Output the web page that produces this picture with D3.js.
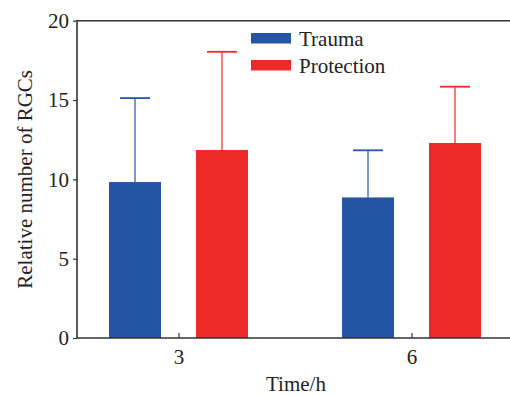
<!DOCTYPE html>
<html>
<head>
<meta charset="utf-8">
<script src="https://cdn.jsdelivr.net/npm/d3@7"></script>
<style>
  body { margin: 0; background: #fff; }
  svg text { font-family: "Liberation Serif", "Times New Roman", serif; fill: #222; }
</style>
</head>
<body>
<svg id="chart" width="510" height="396"></svg>
<script>
// chart values
const times = ["3", "6"];
const seriesNames = ["Trauma", "Protection"];
const seriesColors = ["#2455a5", "#ee2a29"];
const traumaMean = [9.83, 8.86];
const traumaErr = [15.12, 11.83];
const protectionMean = [11.85, 12.29];
const protectionErr = [18.04, 15.84];
const yTicks = [0, 5, 10, 15, 20];

const means = [traumaMean, protectionMean];
const tops = [traumaErr, protectionErr];

const svg = d3.select('#chart');
const margin = {left: 77, right: 0, top: 20.7, bottom: 58};
const width = 510 - margin.left - margin.right;
const height = 396 - margin.top - margin.bottom;
const fs = 21;

const g = svg.append('g').attr('transform', `translate(${margin.left},${margin.top})`);

// group centres and bars within group
const x = d3.scalePoint().domain(times).range([101.5, 334.5]);
const xs = d3.scaleBand().domain(seriesNames).range([-69.5, 69.5]).paddingInner(0.402);
const y = d3.scaleLinear().domain([0, 20]).range([height, 0]);

// bars
const rows = [];
times.forEach((t, i) => {
    seriesNames.forEach((s, j) => {
        rows.push({t, s, j, v: means[j][i], top: tops[j][i]});
    });
});

const bar = g.selectAll('.bar').data(rows).enter().append('g')
    .attr('transform', d => `translate(${x(d.t) + xs(d.s)},0)`);

bar.append('rect')
    .attr('x', 0)
    .attr('width', xs.bandwidth())
    .attr('y', d => y(d.v))
    .attr('height', d => y(0) - y(d.v))
    .attr('fill', d => seriesColors[d.j]);

// error bars (upper only)
const bw = xs.bandwidth();
bar.append('line')
    .attr('x1', bw / 2).attr('x2', bw / 2)
    .attr('y1', d => y(d.v)).attr('y2', d => y(d.top))
    .attr('stroke', d => seriesColors[d.j]).attr('stroke-width', 1.2);
bar.append('line')
    .attr('x1', bw / 2 - 15).attr('x2', bw / 2 + 15)
    .attr('y1', d => y(d.top)).attr('y2', d => y(d.top))
    .attr('stroke', d => seriesColors[d.j]).attr('stroke-width', 1.8);

// axes
const yAxis = g.append('g')
    .call(d3.axisLeft(y).tickValues(yTicks).tickSize(4).tickPadding(4));
yAxis.select('.domain').remove();
yAxis.selectAll('.tick line').attr('stroke', '#333').attr('stroke-width', 1.2);
yAxis.selectAll('.tick text').attr('font-size', fs).attr('fill', '#222')
    .attr('font-family', '"Liberation Serif", serif');

const xAxis = g.append('g').attr('transform', `translate(0,${height})`)
    .call(d3.axisBottom(x).tickSize(-5).tickPadding(11));
xAxis.select('.domain').remove();
xAxis.selectAll('.tick line').attr('stroke', '#333').attr('stroke-width', 1.2);
xAxis.selectAll('.tick text').attr('font-size', fs).attr('fill', '#222')
    .attr('font-family', '"Liberation Serif", serif');

// frame: left, top, bottom
g.append('path')
    .attr('d', `M${width},0H0V${height}H${width}`)
    .attr('fill', 'none').attr('stroke', '#333').attr('stroke-width', 1.6);

// axis titles
svg.append('text')
    .attr('transform', `translate(32,${margin.top + height / 2}) rotate(-90)`)
    .attr('text-anchor', 'middle')
    .attr('font-size', fs)
    .text('Relative number of RGCs');
svg.append('text')
    .attr('x', 296).attr('y', 391)
    .attr('text-anchor', 'middle')
    .attr('font-size', fs)
    .text('Time/h');

// legend
const legend = svg.append('g').attr('transform', 'translate(251,33)');
const li = legend.selectAll('g').data(seriesNames).enter().append('g')
    .attr('transform', (d, i) => `translate(0,${i * 27})`);
li.append('rect').attr('width', 40).attr('height', 10.5)
    .attr('fill', (d, i) => seriesColors[i]);
li.append('text').attr('x', 48).attr('y', 12.5)
    .attr('font-size', fs).text(d => d);
</script>
</body>
</html>
